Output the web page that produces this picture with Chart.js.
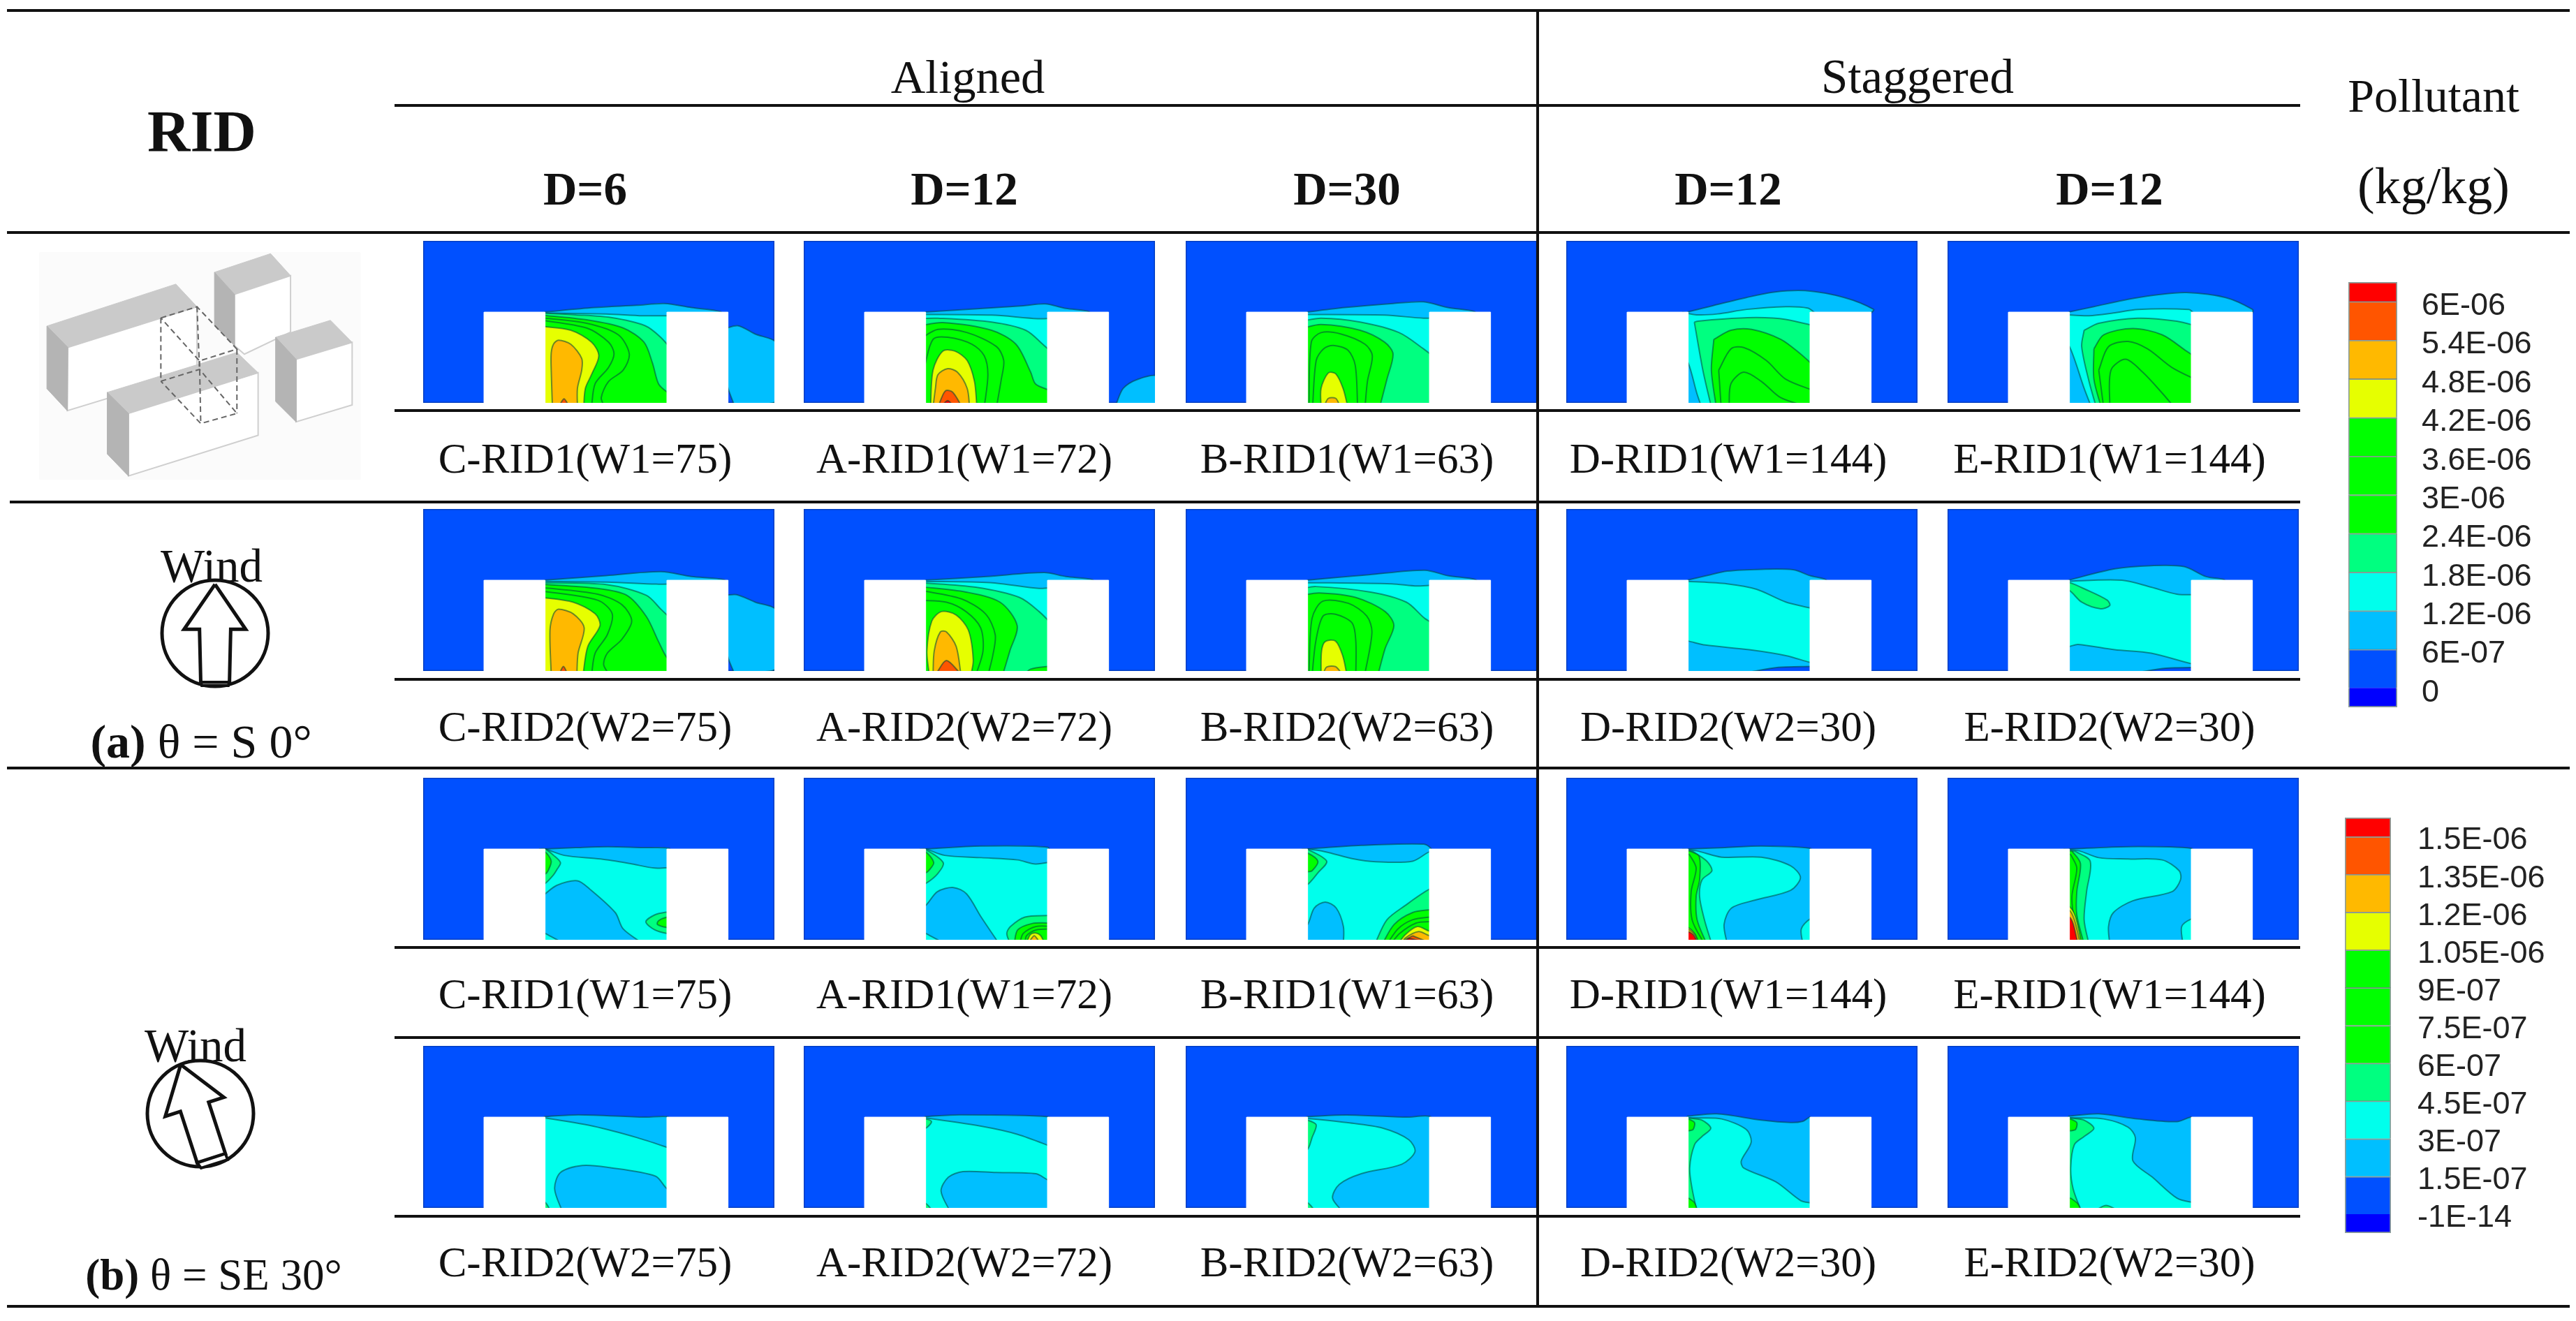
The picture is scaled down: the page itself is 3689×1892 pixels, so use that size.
<!DOCTYPE html>
<html>
<head>
<meta charset="utf-8">
<title>RID pollutant contours</title>
<script src="https://cdn.jsdelivr.net/npm/chart.js@4"></script>
<style>
  html, body { margin: 0; padding: 0; background: #fff; }
  #page { position: relative; width: 3689px; height: 1892px; overflow: hidden; font-family: "Liberation Serif", serif; color: #111; }
  #page canvas { position: absolute; }
  .t { position: absolute; transform: translate(-50%, -50%); white-space: nowrap; line-height: 1; z-index: 3; }
  .b { font-weight: bold; }
  .rule { position: absolute; background: #111; z-index: 2; }
</style>
</head>
<body>
<div id="page"></div>
<script>
// contour bands, low to high. each polygon is [band, u,v, u,v, ...]
// u = % across the canyon (0 left wall, 100 right wall), v = % of roof height
const bandColors = ['#0000ff', '#0050ff', '#00bfff', '#00ffec', '#00ff80', '#00ff00', '#00ff00', '#00ff00', '#e6ff00', '#ffb900', '#ff5500', '#ff0000'];

const levelsA = [0, 6e-7, 1.2e-6, 1.8e-6, 2.4e-6, 3e-6, 3.6e-6, 4.2e-6, 4.8e-6, 5.4e-6, 6e-6];
const labelsA = ['0', '6E-07', '1.2E-06', '1.8E-06', '2.4E-06', '3E-06', '3.6E-06', '4.2E-06', '4.8E-06', '5.4E-06', '6E-06'];
const levelsB = [-1e-14, 1.5e-7, 3e-7, 4.5e-7, 6e-7, 7.5e-7, 9e-7, 1.05e-6, 1.2e-6, 1.35e-6, 1.5e-6];
const labelsB = ['-1E-14', '1.5E-07', '3E-07', '4.5E-07', '6E-07', '7.5E-07', '9E-07', '1.05E-06', '1.2E-06', '1.35E-06', '1.5E-06'];

const domainOutline = [-100,0, 188,0, 188,178.5, -100,178.5];
const buildingLeft = [-50,-2, 0,-2, 0,100, -50,100];
const buildingRight = [100,-2, 150,-2, 150,100, 100,100];

const a_C1 = [
  [2, -1,100, 40,105, 75,107.5, 98,109.5, 120,105, 144,100.5, 144,95, 105,-10, -1,-10],
  [2, 148,82, 158,85, 172,76, 190,65, 190,3, 176,-2, 155,-2, 150,16, 148,30],
  [3, -5,99, 50,98, 80,96, 106,96, 106,-10, -5,-10],
  [4, -5,99, 25,97, 54,94, 82,85, 95,72, 106,55, 106,-10, -5,-10],
  [5, -5,97, 34,91.5, 64,82.5, 81,67, 88,44, 93,21, 100,12, 106,8, 106,-10, -5,-10],
  [6, -5,94, 34,87.7, 60,75, 69,54, 64,36, 52,23.5, 46,5.6, 49,-5, -5,-10],
  [7, -5,91.5, 34,82.5, 52,67, 56.5,54, 52,39, 41,21, 38,-5, -5,-10],
  [8, -5,84.6, 21,80, 38,67, 44,52, 38,31, 33,16, 31.6,-5, -5,-10],
  [9, 6,-5, 5,36, 5,55, 7,65, 11,69, 21,64.6, 30,49, 30,36, 26.5,16, 26.5,-5],
  [10, 12,-2, 15.5,4.5, 19,-2]
];
const a_A1 = [
  [2, -1,100, 40,103.5, 80,107, 98,109, 115,104, 134,100.5, 134,95, 105,-10, -1,-10],
  [2, 156,-2, 162,16, 174,26, 190,29, 190,-2],
  [3, -5,97.5, 54,96.7, 92,92.8, 106,93.5, 106,-10, -5,-10],
  [4, -5,93, 10,93.3, 54,89, 82,80, 96,64.6, 106,52, 106,-10, -5,-10],
  [5, -5,85, 14,88.5, 54,80, 74,64.6, 86,34, 90,21, 100,14.6, 106,12, 106,-10, -5,-10],
  [6, -5,70, 10,81, 34,77.4, 58,62, 64,46.7, 62,26, 58,-5, -5,-10],
  [7, -1,40, 6,70, 18,72.3, 38,64.6, 48,52, 51,31, 48,-5, -1,-10],
  [8, 4,-5, 6,36, 14,57, 24,57, 34,46.7, 40,23.6, 42,-5],
  [9, 6,-5, 8,16, 10,31, 18,37.7, 26,33.8, 34,16, 36,-5],
  [10, 10,-5, 16,13, 22,12, 30,-5],
  [11, 14,-2, 18,2.5, 22,-2]
];
const a_B1 = [
  [2, -1,100, 30,105, 70,109.5, 95,111.3, 115,105, 137,100.5, 137,95, 105,-10, -1,-10],
  [3, -5,97.4, 63,96.7, 95,93.3, 106,94, 106,-10, -5,-10],
  [4, -5,90, 11,93.3, 43,89, 75,77.4, 95,59.5, 106,48, 106,-10, -5,-10],
  [5, -5,82, 11,86.4, 43,80, 63,67, 70,54, 65,26, 59,-5, -5,-10],
  [6, 1,-5, 3,67, 11,77.4, 27,76, 47,64.6, 53,52, 49,23.6, 47,-5],
  [7, 4,-5, 7,46.7, 13,59.5, 21,63.3, 33,58, 39,41.5, 41,-5],
  [8, 11,-5, 11,16, 17,33, 23,32, 29,16, 33,-5],
  [9, 14,-2, 17,5, 23,5, 26,-2]
];
const a_D1 = [
  [2, -1,100, 20,107, 47.6,116, 70,122, 96,123.6, 128,116, 152,103, 150,99, 105,-10, -1,-10],
  [3, -5,100, 7,97, 24,98, 48,103, 80,106, 98,104.5, 103,100, 106,95, 106,-10, 11,-5, 7,10.8, 0,44, -5,50],
  [4, 5,89, 8,90, 30,92.5, 56,94, 80,92, 106,84, 106,-10, 19,-5, 12,36],
  [5, 21,70, 35,80, 52,81, 76,70, 92,54, 106,37, 106,-10, 23,-5, 19,36],
  [6, 25,36, 35,59.5, 45.5,61, 64,46.7, 80,26, 106,12, 106,-10, 27,-5],
  [7, 33.5,-5, 35,21, 45.5,33.8, 60,23.6, 76,5.6, 100,-5]
];
const a_E1 = [
  [2, -1,100, 20,106, 48,114, 72,119, 96,121.5, 128,116, 150,103, 150,99, 105,-10, -1,-10],
  [3, -5,97.4, 16,96, 36,99, 56,103, 98,103, 101,100, 106,95, 106,-10, 18,-5, 12,16, 0,62, -5,64],
  [4, 12,80, 24,87.7, 56,93.3, 88,90, 106,84, 106,-10, 22,-5, 16,23.6, 10,62],
  [5, 20,59.5, 28,75, 52,82, 76,75, 96,57, 106,48, 106,-10, 26,-5, 20,26],
  [6, 24,36, 32,62, 48,67.7, 64,59.5, 84,39, 106,24, 106,-10, 28,-5],
  [7, 33,-5, 34,36, 46,48, 60,33.8, 76,10.8, 86,-5]
];
const a_C2 = [
  [2, -1,100, 50,105, 95,109.4, 120,104, 147,100.5, 147,95, 105,-10, -1,-10],
  [2, 148,83.4, 157,84, 172,76, 190,66, 190,4, 171,-2, 155,-2, 150,14.5, 148,30],
  [3, -5,98.7, 51,98, 91,95.7, 106,96, 106,-10, -5,-10],
  [4, -5,97.4, 51,95, 83,83.4, 95,68, 106,54, 106,-10, -5,-10],
  [5, -5,95.7, 43,91, 67,83.4, 83,60, 93,32.4, 100,14.5, 106,10, 106,-10, -5,-10],
  [6, -5,92.3, 43,84.7, 63,73, 71,55, 63,35, 51,19.6, 48,7, 53,-5, -5,-10],
  [7, -5,88.5, 43,78, 55,63, 51,40, 41,19.6, 38,-5, -5,-10],
  [8, -5,81.4, 23,75.8, 41,63, 45,50, 35,27, 31,-5, -5,-10],
  [9, 5,-5, 4,45, 7,63, 11,68, 23,63, 32,47.7, 27,19.6, 26,-5],
  [10, 12,-2, 15,5, 18,-2]
];
const a_A2 = [
  [2, -1,100, 50,104, 97,108.4, 115,104, 137,100.5, 137,95, 105,-10, -1,-10],
  [3, -5,98.7, 53,97.4, 93,91, 106,92.3, 106,-10, -5,-10],
  [4, -5,97.4, 41,92.3, 77,81, 93,65.5, 106,48, 106,-10, -5,-10],
  [5, -5,93, 33,87, 61,75.8, 75,50, 69,22, 63,-5, -5,-10],
  [5, 80,-5, 86,2, 100,5, 106,5, 106,-5],
  [6, -5,89, 29,79.6, 49,63, 57,40, 55,17, 51,-5, -5,-10],
  [7, -5,78, 17,75.8, 33,65.5, 45,47.7, 47,22, 41,-5, -5,-10],
  [8, 3,-5, 1,22, 5,55, 13,65.5, 25,61.7, 35,45, 39,12, 37,-5],
  [9, 6,-5, 7,22, 12,43, 17,43, 25,27, 29,-5],
  [10, 9,-2, 17,11.5, 28,-2]
];
const a_B2 = [
  [2, -1,100, 50,106, 96,111, 115,105, 138,100.5, 138,95, 105,-10, -1,-10],
  [3, -5,97.4, 69,96, 90,93.6, 106,95, 106,-10, -5,-10],
  [4, -5,90.5, 6.6,93, 51.5,87, 81,75.8, 96,58, 106,50, 106,-10, -5,-10],
  [5, -5,83.4, 9.6,86, 39.5,81, 63.5,65.5, 70.7,50, 63.5,24.7, 57.5,-5, -5,-10],
  [6, 1,-5, 3.6,58, 12.6,77, 33.5,74.5, 48.5,60.5, 52.7,42.6, 46.7,-5],
  [7, 3.6,-5, 6.6,32, 12.6,60.5, 22.8,62.5, 36.5,52.8, 39.5,32.4, 39.5,-5],
  [8, 11,-5, 11.4,22, 14.4,32.4, 22.8,33, 28.7,17, 32.3,-5],
  [9, 13,-2, 15.6,4.3, 22.8,4.8, 27.5,-2]
];
const a_D2 = [
  [2, -1,100, 15,105, 32,110, 60,112, 86,111.5, 100,105, 113,100.5, 113,95, 105,-10, -1,-10],
  [3, -5,99, 0,98.7, 32,96, 56,90, 80,76, 100,69.4, 106,67, 106,8, 100,9.4, 80,17, 50,23.5, 14,28.6, 0,33, -5,34],
  [1, 47,-2, 74,4, 100,5, 106,5, 106,-2]
];
const a_E2 = [
  [2, -1,100, 37,112.5, 67,116, 94,115, 112,104, 127,100.5, 127,95, 105,-10, -1,-10],
  [3, -5,98.7, 43,100, 67,92.3, 88,84.7, 106,84, 106,8, 100,8, 67,19.6, 37,23.5, 7,29.3, 0,27, -5,26],
  [4, -5,97.4, 0,97.4, 13,90, 31,78, 33,72, 25,68.6, 10,75.8, 0,88.5, -5,88],
  [1, 54,-2, 79,3, 100,3.8, 106,3.8, 106,-2]
];
const b_C1 = [
  [2, -1,100, 25,101.5, 51.5,102.6, 80,101.5, 102,100.8, 102,95, 105,-10, -1,-10],
  [3, -5,100, 0,100, 15.6,93, 45.5,89, 69.5,84, 90,79, 106,80, 106,-5, 81,-5, 64,12, 57.5,30, 36.5,56, 26.3,65, 9.6,60, 0,50.6, -5,45],
  [3, -5,10, 0,7, 12.6,-2, -5,-5],
  [4, -5,100, 0,100, 7,93, 12.6,85, 10,78, 6.6,71, 0,62, -5,60],
  [4, 106,31, 100,30.6, 90,27.5, 82.6,19.8, 90,10.8, 100,7, 106,7],
  [5, -5,97, 0,97, 5,86.6, 2.4,76, 0,72.5, -5,72],
  [5, 106,25, 100,25, 93,21, 92,17, 100,13.4, 106,13]
];
const b_A1 = [
  [2, -1,100, 45.5,103.3, 100,102, 102,95, 105,-10, -1,-10],
  [3, -5,100, 0,100, 15.6,93, 45.5,90.5, 75.4,88, 90,83.5, 106,86.6, 106,-5, 60.5,-5, 45.5,25, 33.5,50.6, 22.8,57.6, 9.6,53, 0,37.8, -5,35],
  [3, -5,10, 0,7, 12.6,-2, -5,-5],
  [4, -5,99.5, 0,99.5, 14.4,85, 9.6,72.5, 0,62, -5,60],
  [4, 106,26.7, 100,26.7, 81.4,25, 69.5,14.6, 66.5,7, 69.5,-5, 106,-5],
  [5, -5,97, 0,97, 6.6,85, 2.4,76, 0,73.8, -5,73],
  [5, 106,18.5, 100,18.5, 87.4,18, 75.4,10.8, 72.5,-5, 106,-5],
  [6, 106,14.6, 90.4,14.6, 80,7, 77,-5, 106,-5],
  [7, 106,12, 90.4,10.8, 82.6,4.4, 81.4,-5, 106,-5],
  [8, 83,-2, 86,6, 90,7.5, 94,5, 97,-2],
  [9, 85,-2, 89,4.5, 93,-2]
];
const b_B1 = [
  [2, -1,100, 44,104, 95,105.4, 101,100.8, 102,95, 105,-10, -1,-10],
  [3, -5,100, 0,100, 14.4,97, 38,89, 56,86, 86,86.6, 100,97, 106,97, 106,-5, 29.3,-5, 29.3,14.6, 23.4,35, 14.4,41.6, 5.4,35, 0,17, -5,15],
  [4, -5,99.5, 0,99.5, 15.6,86.6, 8.4,73.8, 0,61, -5,60],
  [4, 106,56, 100,55.8, 80,37.8, 65,22, 55,-5, 106,-5],
  [5, -5,95.6, 0,95.6, 8.4,86.6, 3.6,76, 0,75, -5,75],
  [5, 106,33, 100,33, 86,30, 71,17, 61,-5, 106,-5],
  [6, 106,25, 100,25, 86,22, 74,12, 65,-5, 106,-5],
  [7, 106,20, 100,20, 89,18.5, 75.4,7, 68,-5, 106,-5],
  [8, 106,9.5, 100,9.5, 90,14.6, 80,5.6, 74,-5, 106,-5],
  [9, 106,4.4, 100,4.4, 91,9, 80,1.8, 77,-5, 106,-5],
  [10, 86,4.4, 77,-2, 98,-2],
  [11, 83,1.8, 80,-2, 95,-2]
];
const b_D1 = [
  [2, -1,100, 30,101.5, 60,103.3, 100,100.8, 102,95, 105,-10, -1,-10],
  [3, -5,100, 7,98, 27.4,91, 60,91, 84,81.5, 92,68.6, 84,54.5, 55.6,44, 35.5,35, 29.4,17, 32,-5, -5,-5],
  [3, 106,23, 100,23, 92.7,12, 94,-5, 106,-5],
  [4, 3,98, 15.3,86.6, 19.4,76, 11.3,66, 9.3,48, 13.3,22, 19.4,-5, -5,-5, -5,98],
  [5, 1,98, 9,91.8, 9.3,66, 6.5,48, 7.3,22, 15.3,-5, -5,-5, -5,98],
  [6, 1,94, 6.5,79, 2.4,53, 3.2,22, 13.3,-5, -5,-5, -5,94],
  [8, -5,14, 0,13.4, 5.2,7, 9.3,-5, -5,-5],
  [9, -5,12, 0,11.6, 5.2,5.7, 8.5,-5, -5,-5],
  [11, -5,9, 0,9, 4.5,5, 8,-5, -5,-5]
];
const b_E1 = [
  [2, -1,100, 48,102.6, 100,100.8, 102,95, 105,-10, -1,-10],
  [3, -5,100, 8,98, 24,90.5, 48,89, 76,88, 90,76, 91,66, 84,53, 52,43, 36,30, 32,14.6, 33,-5, -5,-5],
  [3, 106,23, 100,23, 92,14.6, 93,-5, 106,-5],
  [4, 4,98, 17,86.6, 14,53, 12,22, 16,-5, -5,-5, -5,98],
  [5, 2,98, 9,84, 6,53, 6,27.5, 12,-5, -5,-5, -5,98],
  [6, 1,94, 6,79, 2,48, 4,22, 10,-5, -5,-5, -5,94],
  [8, -5,36.5, 0,36.5, 5,25, 10,-5, -5,-5],
  [9, -5,32.6, 0,32.6, 4,22, 9,-5, -5,-5],
  [11, -5,25, 0,25, 3.2,17, 7,-5, -5,-5]
];
const b_C2 = [
  [2, -1,100.5, 27.5,102.6, 81.4,100, 101,100.5, 102,95, 105,-10, -1,-10],
  [3, -5,99, 0,99, 39.5,90, 75.4,77.4, 106,64, 106,19, 100,21, 90.4,35, 51.5,44.6, 30.5,46.7, 12.6,39, 7.8,21, 14.4,-5, -5,-5],
  [4, -5,6, 0,6, 4,-2, -5,-5]
];
const b_A2 = [
  [2, -1,100.5, 27.5,102.6, 101,100.5, 102,95, 105,-10, -1,-10],
  [3, -5,99, 0,99, 45.5,90, 75.4,81, 106,66, 106,29, 100,31, 90.4,37.7, 57.5,39, 30.5,40, 18.6,33.8, 12.6,18.5, 20.4,-5, -5,-5],
  [4, -5,98, 0,98, 4.8,95, 0,87.7, -5,87],
  [4, -5,6, 0,5, 5,-2, -5,-5]
];
const b_B2 = [
  [2, -1,100.5, 32,102.3, 80,100, 100,101, 102,95, 105,-10, -1,-10],
  [3, -5,98.5, 0,98.5, 32,94, 62,87.7, 83,75, 88,62, 77,48, 44,37.7, 26,26, 20.4,10.8, 29.3,-5, -5,-5],
  [4, -5,96.7, 0,96.7, 7,91.5, 3.6,77.4, 0,64.6, -5,63],
  [4, -5,6, 0,5.6, 5.4,-2, -5,-5]
];
const b_D2 = [
  [2, -1,101, 23.4,103.6, 59.7,96.7, 84,94, 94,95.4, 100,100, 102,95, 105,-10, -1,-10],
  [3, -5,99, 5,99, 27.4,98, 47.6,86.4, 51.6,72.3, 43.5,51.8, 45.5,44, 71.8,28.7, 92,8.2, 100,5.6, 106,5, 106,-5, -5,-5],
  [4, 0.4,99, 11.3,96.7, 18.5,87.7, 11.3,78.7, 5.2,69.7, 1.2,44, 3.2,21, 7.3,-5, -5,-5, -5,99],
  [5, 0.4,98, 5.2,94, 4,86.4, 0.4,85, -5,85, -5,98],
  [5, 0.4,10.8, 5.2,5.6, 8,-5, -5,-5, -5,11]
];
const b_E2 = [
  [2, -1,101, 24,103.6, 56,98, 88,95, 100,100, 102,95, 105,-10, -1,-10],
  [3, -5,99, 4,99, 28,98, 48,89, 54,77.4, 52,51.8, 68,33.8, 88,10.8, 100,6.2, 106,6, 106,-5, -5,-5],
  [4, 1,99, 12,96.7, 20,87.7, 12,78.7, 4,69.7, 1,44, 3,21, 10,-5, -5,-5, -5,99],
  [4, 22,-2, 30,2.6, 39,-2],
  [5, 1,98, 6,94, 5,86.4, 1,85, -5,85, -5,98],
  [5, 1,10.8, 7,4.4, 10,-5, -5,-5, -5,11]
];

const panelRows = [
  [a_C1, a_A1, a_B1, a_D1, a_E1],
  [a_C2, a_A2, a_B2, a_D2, a_E2],
  [b_C1, b_A1, b_B1, b_D1, b_E1],
  [b_C2, b_A2, b_B2, b_D2, b_E2]
];
const rowLabels = [
  ['C-RID1(W1=75)', 'A-RID1(W1=72)', 'B-RID1(W1=63)', 'D-RID1(W1=144)', 'E-RID1(W1=144)'],
  ['C-RID2(W2=75)', 'A-RID2(W2=72)', 'B-RID2(W2=63)', 'D-RID2(W2=30)', 'E-RID2(W2=30)']
];
const depthLabels = ['D=6', 'D=12', 'D=30', 'D=12', 'D=12'];

// sketch of the blocks, units are the zoomed drawing's
const sketchBack = [158,45, 1445,45, 1445,715, 158,715];
const sketchTops = [
  [188,262, 705,138, 790,205, 272,325],
  [860,103, 1085,48, 1165,113, 940,168],
  [1105,295, 1325,245, 1412,310, 1187,360],
  [430,458, 950,340, 1035,400, 515,520]
];
const sketchSides = [
  [188,262, 272,325, 270,512, 188,447],
  [860,103, 940,168, 940,320, 860,260],
  [1105,295, 1187,360, 1187,545, 1105,485],
  [430,458, 515,520, 515,705, 430,640]
];
const sketchFronts = [
  [272,325, 790,205, 790,395, 270,512],
  [940,168, 1165,113, 1165,280, 980,345, 940,320],
  [1187,360, 1412,310, 1412,495, 1187,545],
  [515,520, 1035,400, 1035,585, 515,705]
];
const sketchDashes = [
  [645,238, 790,205, 950,330, 800,365, 645,238],
  [645,425, 800,390, 950,520, 805,550, 645,425],
  [645,238, 645,425], [790,205, 800,390], [950,330, 950,520], [800,365, 805,550]
];

// wind roses, px inside their own canvas
const windArrowA = [207.9,66.9, 251.8,131.3, 230.4,131.3, 228.6,207.4, 187.5,207.4, 185.7,131.3, 163.6,131.3];
const windTrayA = [187.5,207.4, 228.6,207.4, 227,212, 189,212];
const windCircleA = [208, 137];
const windArrowB = [158.8,64.7, 220.5,111.6, 198.8,118.6, 222.8,192.3, 182.4,205.5, 158.4,131.8, 136.7,138.9];
const windTrayB = [222.8,192.3, 226,201, 188,213, 182.4,205.5];
const windCircleB = [187, 135];

const page = document.getElementById('page');
const panelLeft = [606, 1151, 1698, 2243, 2789];
const panelTop = [345, 729, 1114, 1498];
const labelY = [656, 1040, 1423, 1807];
const labelX = [838, 1381, 1929, 2475, 3021];

function addCanvas(x, y, w, h) {
  const c = document.createElement('canvas');
  c.width = w;
  c.height = h;
  c.style.left = x + 'px';
  c.style.top = y + 'px';
  c.style.width = w + 'px';
  c.style.height = h + 'px';
  page.appendChild(c);
  return c;
}

function addText(str, x, y, size, cls) {
  const d = document.createElement('div');
  d.className = 't' + (cls ? ' ' + cls : '');
  d.style.left = x + 'px';
  d.style.top = y + 'px';
  d.style.fontSize = size + 'px';
  d.innerHTML = str;
  page.appendChild(d);
}

function addRule(x, y, w, h) {
  const d = document.createElement('div');
  d.className = 'rule';
  d.style.cssText = `left:${x}px;top:${y}px;width:${w}px;height:${h}px`;
  page.appendChild(d);
}

// points under a building or the ground get doubled, that makes a hard corner in the spline
function toPoints(flat, smooth) {
  const pts = [];
  for (let i = 0; i + 1 < flat.length; i += 2) {
    const p = { x: flat[i], y: flat[i + 1] };
    pts.push(p);
    if (smooth && (p.x < 0 || p.y < 0 || (p.x >= 105 && p.x <= 110))) pts.push({ ...p });
  }
  return pts;
}

function polygon(flat, fillColor, edge, width, smooth) {
  const pts = toPoints(flat.concat(flat.slice(0, 2)), smooth);
  return {
    data: pts,
    showLine: true,
    fill: 'shape',
    backgroundColor: fillColor,
    borderColor: edge,
    borderWidth: width,
    tension: smooth ? 0.3 : 0,
    pointRadius: 0
  };
}

function polyline(flat, color, width, dash) {
  return {
    data: toPoints(flat, false),
    showLine: true,
    fill: false,
    borderColor: color,
    borderWidth: width,
    borderDash: dash || [],
    tension: 0,
    pointRadius: 0
  };
}

function plainChart(canvas, datasets, x, y) {
  // first dataset is painted last by Chart.js, so flip the paint order list
  return new Chart(canvas, {
    type: 'scatter',
    data: { datasets: datasets.slice().reverse() },
    options: {
      responsive: false,
      animation: false,
      devicePixelRatio: 1,
      layout: { padding: 0, autoPadding: false },
      plugins: { legend: { display: false }, tooltip: { enabled: false } },
      events: [],
      scales: {
        x: { type: 'linear', display: false, min: x[0], max: x[1] },
        y: { type: 'linear', display: false, min: y[0], max: y[1], reverse: y[2] === true }
      }
    }
  });
}

function drawPanel(bands, x, y) {
  const sets = [polygon(domainOutline, bandColors[1], 'rgba(0,40,120,0.45)', 3, false)];
  bands.forEach(b => {
    sets.push(polygon(b.slice(1), bandColors[b[0]], 'rgba(0,70,60,0.55)', 2, true));
  });
  sets.push(polygon(buildingLeft, '#fff', '#fff', 1, false));
  sets.push(polygon(buildingRight, '#fff', '#fff', 1, false));
  plainChart(addCanvas(x, y, 503, 232), sets, [-100, 188], [0, 178.5]);
}

function drawSketch() {
  const sets = [polygon(sketchBack, '#fbfbfb', '#fbfbfb', 1, false)];
  sketchTops.forEach((top, i) => {
    sets.push(polygon(sketchFronts[i], '#fff', '#cfcfcf', 2, false));
    sets.push(polygon(top, '#cacaca', '#cacaca', 1, false));
    sets.push(polygon(sketchSides[i], '#b4b4b4', '#b4b4b4', 1, false));
  });
  sketchDashes.forEach(d => sets.push(polyline(d, '#666', 2, [8, 5])));
  plainChart(addCanvas(0, 340, 560, 380), sets, [0, 1568], [0, 784, true]);
}

function drawWind(left, top, arrow, tray, circle) {
  const sets = [
    {
      data: [{ x: circle[0], y: circle[1] }],
      pointRadius: 76,
      pointBackgroundColor: '#fff',
      pointBorderColor: '#111',
      pointBorderWidth: 5
    },
    polygon(arrow, '#fff', '#111', 5, false),
    polygon(tray, '#fff', '#111', 4, false)
  ];
  plainChart(addCanvas(left, top, 400, 300), sets, [0, 400], [0, 300, true]);
}

function drawColorBar(x, y, barW, h, levels, labels, pad, offset) {
  const step = levels[1] - levels[0];
  const low = levels[0] - step / 2;
  const high = levels[levels.length - 1] + step / 2;
  const edges = [low, ...levels, high];
  const datasets = bandColors.map((color, i) => ({
    data: [[edges[i], edges[i + 1]]],
    backgroundColor: color,
    borderColor: 'rgba(0,40,30,0.45)',
    borderWidth: 2,
    barPercentage: 1,
    categoryPercentage: 1
  }));
  const axisW = 3689 - x - barW;
  new Chart(addCanvas(x, y, barW + axisW, h), {
    type: 'bar',
    data: { labels: ['Pollutant'], datasets },
    options: {
      responsive: false,
      animation: false,
      devicePixelRatio: 1,
      layout: { padding: 0, autoPadding: false },
      events: [],
      plugins: { legend: { display: false }, tooltip: { enabled: false } },
      scales: {
        x: { stacked: true, display: false },
        y: {
          position: 'right',
          min: low,
          max: high,
          grid: { display: false, drawTicks: false },
          border: { display: false },
          afterBuildTicks: axis => { axis.ticks = levels.map(v => ({ value: v })); },
          afterFit: axis => { axis.width = axisW; axis.paddingTop = 0; axis.paddingBottom = 0; },
          ticks: {
            autoSkip: false,
            padding: pad,
            labelOffset: offset,
            color: '#222',
            font: { family: '"Liberation Sans"', size: 45 },
            callback: (v, i) => labels[i]
          }
        }
      }
    }
  });
}

panelRows.forEach((row, r) => {
  row.forEach((bands, c) => drawPanel(bands, panelLeft[c], panelTop[r]));
  rowLabels[r % 2].forEach((txt, c) => addText(txt, labelX[c], labelY[r], 61));
});

drawSketch();
drawWind(100, 770, windArrowA, windTrayA, windCircleA);
drawWind(100, 1460, windArrowB, windTrayB, windCircleB);
drawColorBar(3363, 404, 70, 609, levelsA, labelsA, 35, 7);
drawColorBar(3358, 1171, 66, 595, levelsB, labelsB, 38, 6);

// table rules
addRule(10, 13, 3670, 4);
addRule(565, 149, 2729, 4);
addRule(10, 331, 3670, 4);
[586, 971, 1355, 1740].forEach(y => addRule(565, y, 2729, 4));
addRule(14, 717, 3280, 4);
addRule(10, 1098, 3670, 4);
addRule(565, 1484, 2729, 4);
addRule(10, 1869, 3670, 4);
addRule(2200, 13, 4, 1859);

// headers
addText('RID', 289, 188, 85, 'b');
addText('Aligned', 1386, 110, 68.5);
addText('Staggered', 2746, 110, 69);
addText('Pollutant', 3485, 137, 68);
addText('(kg/kg)', 3485, 266, 74);
depthLabels.forEach((d, i) => addText(d, labelX[i], 270, 67, 'b'));
addText('Wind', 303, 810, 67);
addText('Wind', 280, 1497, 67);
addText('<span class="b">(a)</span> θ = S 0°', 288, 1062, 68);
addText('<span class="b">(b)</span> θ = SE 30°', 306, 1826, 63);
</script>
</body>
</html>
